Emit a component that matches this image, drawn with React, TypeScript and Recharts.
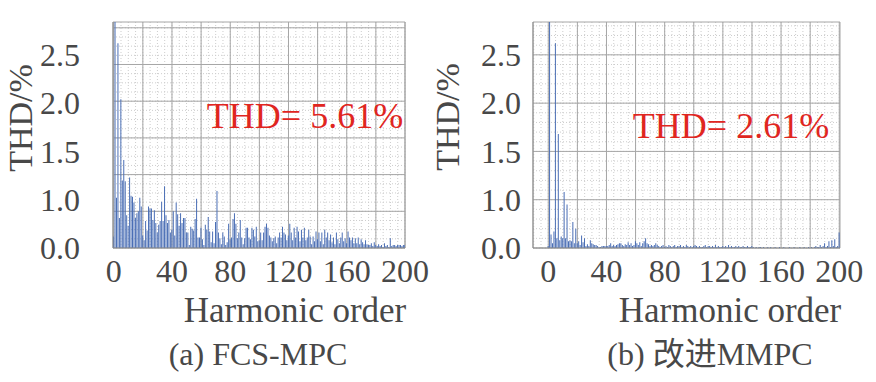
import { Bar, BarChart, CartesianGrid, XAxis, YAxis } from "recharts";

// harmonic order axis (0..200)
const harmonicOrders = Array.from({ length: 201 }, (_, i) => i);

// (a) FCS-MPC spectrum, % per harmonic order
const fcsMpcThd = [
	0.12, 2.6, 0.52, 2.12, 0.31, 1.54, 0.7, 0.91, 0.69, 0.34,
	0.23, 0.73, 0.54, 0.53, 0.47, 0.31, 0.36, 0.38, 0.52, 0.43,
	0.13, 0.08, 0.28, 0.18, 0.43, 0.41, 0.41, 0.29, 0.39, 0.26,
	0.16, 0.24, 0.28, 0.48, 0.28, 0.64, 0.34, 0.26, 0.29, 0.16,
	0.19, 0.38, 0.13,
	0.47, 0.35, 0.23, 0.36, 0.26, 0.31, 0.31, 0.16, 0.16, 0.03,
	0.22, 0.2, 0.18, 0.3, 0.51, 0.11, 0.11, 0.21, 0.09, 0.03,
	0.24, 0.19, 0.32, 0.17, 0.06, 0.17, 0.05, 0.27, 0.59, 0.16,
	0.1, 0.04, 0.16, 0.12, 0.03, 0.06, 0.25, 0.09, 0.11, 0.3,
	0.36, 0.25, 0.1, 0.16, 0.29, 0.11, 0.04, 0.1, 0.21, 0.21,
	0.11, 0.09, 0.21, 0.19, 0.12, 0.22, 0.07,
	0.08, 0.16, 0.08, 0.16, 0.22, 0.25, 0.21, 0.13, 0.11, 0.07,
	0.1, 0.12, 0.05, 0.11, 0.16, 0.11, 0.22, 0.16, 0.14, 0.08,
	0.13, 0.25, 0.16, 0.08, 0.21, 0.11, 0.22, 0.17, 0.07, 0.19,
	0.11, 0.21, 0.08, 0.11, 0.19, 0.12, 0.04, 0.12, 0.07, 0.17,
	0.09, 0.16, 0.07, 0.16, 0.04, 0.19, 0.11, 0.16, 0.08, 0.14,
	0.06, 0.11, 0.04, 0.16, 0.09, 0.05,
	0.11, 0.16, 0.07, 0.1, 0.05, 0.17, 0.11, 0.08, 0.11, 0.05,
	0.1, 0.05, 0.11, 0.04, 0.09, 0.06, 0.04, 0.08, 0.04, 0.03,
	0.03, 0.05, 0.02, 0.06, 0.03, 0.02, 0.04, 0.02, 0.03, 0.01,
	0.05, 0.02, 0.03, 0.01, 0.1, 0.02, 0.03, 0.03, 0.02, 0.03,
	0.03, 0.03, 0.02, 0.03, 0.03,
];

// (b) improved MMPC spectrum
const mmpcThd = [
	0.02, 2.6, 0.14, 0.05, 0.17, 2.12, 0.1, 1.18, 0.08, 0.12,
	0.1, 0.58, 0.1, 0.45, 0.07, 0.08, 0.07, 0.27, 0.05, 0.2,
	0.05, 0.07, 0.03, 0.13, 0.06, 0.1, 0.02, 0.04, 0.02, 0.08,
	0.05, 0.04, 0.03, 0.03, 0.02, 0.01, 0.01, 0.02, 0.02, 0.02,
	0.02, 0.02,
	0.03, 0.05, 0.02, 0.03, 0.02, 0.03, 0.04, 0.05, 0.05, 0.03,
	0.02, 0.04, 0.03, 0.06, 0.03, 0.05, 0.02, 0.03, 0.07, 0.05,
	0.03, 0.06, 0.02, 0.05, 0.07, 0.1, 0.05, 0.04, 0.02, 0.03,
	0.02, 0.03, 0.05, 0.03, 0.02, 0.01, 0.02, 0.03, 0.01,
	0.02, 0.01, 0.03, 0.02, 0.01, 0.02, 0.03, 0.01, 0.02, 0.02,
	0.03, 0.01, 0.02, 0.01, 0.03, 0.02, 0.01, 0.02, 0.01, 0.02,
	0.03, 0.02, 0.01, 0.02, 0.01, 0.01, 0.02, 0.03, 0.01, 0.02,
	0.02, 0.01, 0.02, 0.01, 0.03, 0.01, 0.02, 0.01, 0.01, 0.02,
	0.01, 0.02, 0.01, 0.03, 0.01, 0.02, 0.01, 0.01, 0.02, 0.01,
	0.02, 0.01, 0.01, 0.02, 0.01, 0.01, 0.02, 0.01, 0.01, 0.02,
	0.01, 0, 0.01, 0, 0.01, 0.01, 0, 0.01, 0, 0,
	0.01, 0, 0.01, 0, 0, 0.01, 0, 0, 0.01, 0,
	0, 0.01, 0, 0, 0, 0.01, 0, 0, 0.01, 0,
	0, 0, 0.01, 0, 0, 0.01, 0, 0, 0.01, 0,
	0.01, 0, 0.01, 0.02, 0.01,
	0.01, 0.03, 0.01, 0.02, 0.05, 0.01, 0.02, 0.07, 0.01, 0.08,
	0.02, 0.09, 0.01, 0.02, 0.16,
];

const xTicks = [0, 40, 80, 120, 160, 200];
// the picture's baseline sits on the 0.5 grid level but is labelled 0.0
const yTicks = [0.5, 1.0, 1.5, 2.0, 2.5];
const yTickLabels = ["0.0", "1.0", "1.5", "2.0", "2.5"];
const thdTexts = ["THD= 5.61%", "THD= 2.61%"];
const captions = ["(a) FCS-MPC", "(b) 改进MMPC"];

const Y_BASE = 0.5;
const Y_TOP = 2.84;
const SERIF = '"Liberation Serif", "Times New Roman", "Noto Sans CJK SC", serif';
const INK = "#484848";

const steps = (from: number, to: number, step: number) => {
	const out: number[] = [];
	for (let v = from; v <= to + 1e-9; v += step) out.push(+v.toFixed(4));
	return out;
};

type PanelProps = {
	values: number[];
	left: number;
	width: number;
	axisWidth: number;
	rightMargin: number;
	xDomain: [number, number];
	hMajorStep: number;
	hMinorStep: number;
	tickGap: number;
};

function Panel({
	values,
	left,
	width,
	axisWidth,
	rightMargin,
	xDomain,
	hMajorStep,
	hMinorStep,
	tickGap,
}: PanelProps) {
	const rows = harmonicOrders.map((order, i) => ({
		order,
		thd: values[i] + Y_BASE,
	}));
	const hMajor = [...steps(Y_BASE, Y_TOP, hMajorStep), Y_TOP];
	const hMinor = steps(Y_BASE, Y_TOP, hMinorStep);
	const vMajor = [xDomain[0], ...steps(0, 200, 20), xDomain[1]];
	const vMinor = steps(Math.ceil(xDomain[0] / 5) * 5, xDomain[1], 5);

	return (
		<div style={{ position: "absolute", left, top: 0 }}>
			<BarChart
				width={width}
				height={300}
				data={rows}
				margin={{ top: 22, right: rightMargin, left: 0, bottom: 0 }}
				barCategoryGap="5%"
			>
				<CartesianGrid
					horizontalValues={hMinor}
					verticalValues={vMinor}
					stroke="#cdcdcd"
					strokeDasharray="1 2"
				/>
				<CartesianGrid
					horizontalValues={hMajor}
					verticalValues={vMajor}
					stroke="#a6a6a6"
				/>
				<XAxis
					type="number"
					dataKey="order"
					domain={xDomain}
					allowDataOverflow
					ticks={xTicks}
					interval={0}
					height={52}
					tickLine={false}
					axisLine={{ stroke: "#8c8c8c" }}
					tickMargin={5}
					tick={{ fontSize: 32, fill: INK, fontFamily: SERIF }}
				/>
				<YAxis
					type="number"
					domain={[Y_BASE, Y_TOP]}
					allowDataOverflow
					ticks={yTicks}
					interval={0}
					width={axisWidth}
					tickLine={false}
					axisLine={{ stroke: "#8c8c8c" }}
					tickMargin={tickGap}
					tickFormatter={(v: number) => yTickLabels[yTicks.indexOf(v)]}
					tick={{ fontSize: 32, fill: INK, fontFamily: SERIF }}
				/>
				<Bar dataKey="thd" fill="#4a6eb5" isAnimationActive={false} />
			</BarChart>
		</div>
	);
}

function Txt({
	x,
	y,
	size,
	color = INK,
	rotate = false,
	children,
}: {
	x: number;
	y: number;
	size: number;
	color?: string;
	rotate?: boolean;
	children: string;
}) {
	return (
		<div
			style={{
				position: "absolute",
				left: x,
				top: y,
				transform: `translate(-50%, -50%)${rotate ? " rotate(-90deg)" : ""}`,
				fontFamily: SERIF,
				fontSize: size,
				lineHeight: 1,
				color,
				whiteSpace: "nowrap",
			}}
		>
			{children}
		</div>
	);
}

export default function App() {
	return (
		<div
			style={{
				position: "absolute",
				left: 0,
				top: 0,
				width: 876,
				height: 382,
				background: "#fff",
				overflow: "hidden",
			}}
		>
			<Panel
				values={fcsMpcThd}
				left={0}
				width={430}
				axisWidth={113}
				rightMargin={25}
				xDomain={[-0.5, 200]}
				hMajorStep={0.38}
				hMinorStep={0.095}
				tickGap={27}
			/>
			<Panel
				values={mmpcThd}
				left={430}
				width={446}
				axisWidth={103}
				rightMargin={36}
				xDomain={[-10.5, 200.5]}
				hMajorStep={0.5}
				hMinorStep={0.1}
				tickGap={6}
			/>

			<Txt x={21} y={118} size={34} rotate>
				THD/%
			</Txt>
			<Txt x={448} y={117} size={34} rotate>
				THD/%
			</Txt>

			<Txt x={305} y={116} size={36} color="#e0261f">
				{thdTexts[0]}
			</Txt>
			<Txt x={731} y={126} size={36} color="#e0261f">
				{thdTexts[1]}
			</Txt>

			<Txt x={295} y={310} size={35}>
				Harmonic order
			</Txt>
			<Txt x={730} y={310} size={35}>
				Harmonic order
			</Txt>

			<Txt x={258} y={354} size={32}>
				{captions[0]}
			</Txt>
			<Txt x={710} y={354} size={32}>
				{captions[1]}
			</Txt>
		</div>
	);
}
